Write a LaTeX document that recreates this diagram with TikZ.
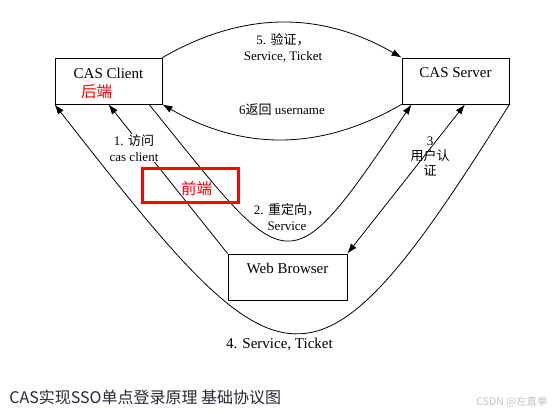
\documentclass[tikz,border=0pt]{standalone}
\usepackage{fontspec}
\setmainfont{Liberation Serif}
\newfontfamily\cjk{Noto Sans CJK SC}
\usetikzlibrary{arrows.meta}
\definecolor{captext}{RGB}{37,41,54}
\definecolor{marktext}{RGB}{195,195,195}

\begin{document}
\begin{tikzpicture}[x=1pt,y=-1pt,>={Latex[length=10pt,width=7pt]},line width=0.8pt]
\tikzstyle{box}=[rectangle,draw=black,line width=0.8pt,minimum width=107pt,minimum height=46pt,inner sep=0pt]
\tikzstyle{boxtxt}=[font=\fontsize{15}{18}\selectfont,yshift=8pt]
\tikzstyle{lbl}=[align=center,font=\fontsize{13}{15.5}\selectfont,inner sep=1pt]
\tikzstyle{redtxt}=[text=red,font=\cjk\fontsize{15.5}{18}\selectfont,inner sep=0pt]

\useasboundingbox (0,0) rectangle (553,414);

\begin{scope}
    % Boxes
    \node [box,label={[boxtxt]center:CAS Client}] (client) at (108.5,81) {};
    \node [box,label={[boxtxt]center:CAS Server}] (server) at (455.5,81) {};
    \node [box,minimum width=119pt,label={[boxtxt,yshift=1pt]center:Web Browser}] (browser) at (287.5,277) {};
    \node [redtxt] (back) at (96.5,92) {后端};

    %Interactions
    \path[->]  (client.north east)  edge  [bend left=30]  (server.north west);
    \path[->]  (server.south west)  edge  [bend left=30]  (client.south east);
    \path[->]  (browser.north west)  edge  (client.south);
    \path[->]  (client.-30)  edge  [out=-51,in=-124,looseness=2.2]  (server.208);
    \path[<->] (browser.north east)  edge  (server.-68);
    \path[->]  (server.south east)  edge  [out=238,in=-52,looseness=2.1]  (client.south west);

    %Labels
    \node [lbl] (l5) at (283,48) {5. {\cjk 验证，}\\Service, Ticket};
    \node [lbl] (l6) at (282,110) {6{\cjk 返回} username};
    \node [lbl,fill=white] (l1) at (134,148) {1. {\cjk 访问}\\cas client};
    \node [lbl] (l2) at (287,217) {2. {\cjk 重定向，}\\Service};
    \node [lbl,font=\fontsize{13}{15}\selectfont] (l3) at (430,157) {3\\{\cjk 用户认}\\{\cjk 证}};
    \node [font=\fontsize{15}{18}\selectfont,inner sep=0pt] (l4) at (279.5,344) {4. Service, Ticket};

    %Front end
    \node [draw=red,line width=3pt,minimum width=96pt,minimum height=34pt,inner sep=0pt,
           label={[redtxt,xshift=6pt,yshift=-3pt]center:前端}] (front) at (190.5,185.5) {};

    %Caption
    \node [anchor=west,text=captext,font=\cjk\fontsize{16}{19}\selectfont,inner sep=0pt] (caption) at (9,397) {CAS实现SSO单点登录原理 基础协议图};
    \node [text=marktext,font=\cjk\fontsize{10.5}{12}\selectfont,inner sep=0pt] (mark) at (512,402) {CSDN @左直拳};
\end{scope}

\end{tikzpicture}
\end{document}
